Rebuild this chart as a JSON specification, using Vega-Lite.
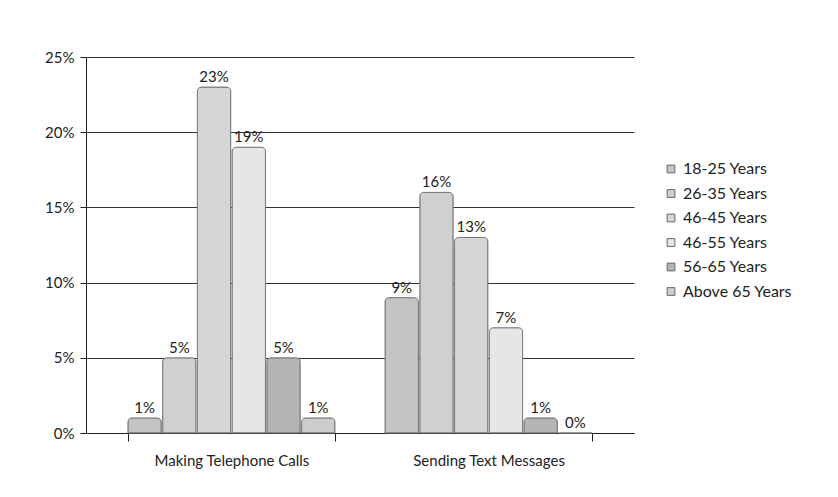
{
  "$schema": "https://vega.github.io/schema/vega-lite/v6.json",
  "width": 548,
  "height": 376,
  "autosize": {"type": "none"},
  "padding": {"left": 86, "top": 57, "right": 204, "bottom": 64},
  "background": "white",
  "data": {
    "values": [
      {"activity": "Making Telephone Calls", "age": "18-25 Years", "pct": 0.01},
      {"activity": "Making Telephone Calls", "age": "26-35 Years", "pct": 0.05},
      {"activity": "Making Telephone Calls", "age": "46-45 Years", "pct": 0.23},
      {"activity": "Making Telephone Calls", "age": "46-55 Years", "pct": 0.19},
      {"activity": "Making Telephone Calls", "age": "56-65 Years", "pct": 0.05},
      {"activity": "Making Telephone Calls", "age": "Above 65 Years", "pct": 0.01},
      {"activity": "Sending Text Messages", "age": "18-25 Years", "pct": 0.09},
      {"activity": "Sending Text Messages", "age": "26-35 Years", "pct": 0.16},
      {"activity": "Sending Text Messages", "age": "46-45 Years", "pct": 0.13},
      {"activity": "Sending Text Messages", "age": "46-55 Years", "pct": 0.07},
      {"activity": "Sending Text Messages", "age": "56-65 Years", "pct": 0.01},
      {"activity": "Sending Text Messages", "age": "Above 65 Years", "pct": 0.0}
    ]
  },
  "encoding": {
    "x": {
      "field": "activity", "type": "nominal", "title": null,
      "scale": {"paddingInner": 0.195, "paddingOuter": 0.163},
      "axis": {"labelAngle": 0, "labelFont": "Lato", "labelFontSize": 15, "labelColor": "#222", "labelPadding": 12, "domainColor": "#222", "tickColor": "#222", "tickBand": "extent", "tickSize": 8, "ticks": true}
    },
    "xOffset": {"field": "age", "type": "nominal", "scale": {"paddingInner": 0.04}},
    "y": {
      "field": "pct", "type": "quantitative", "title": null,
      "scale": {"domain": [0, 0.25]},
      "axis": {"values": [0, 0.05, 0.1, 0.15, 0.2, 0.25], "format": ".0%", "labelFont": "Lato", "labelFontSize": 15, "labelColor": "#222", "domainColor": "#222", "tickColor": "#222", "tickSize": 6, "gridColor": "#333", "gridWidth": 1, "labelPadding": 6}
    }
  },
  "layer": [
    {
      "mark": {"type": "bar", "stroke": "#777", "strokeWidth": 1, "cornerRadiusEnd": 4},
      "encoding": {
        "color": {
          "field": "age", "type": "nominal", "title": null,
          "scale": {"domain": ["18-25 Years", "26-35 Years", "46-45 Years", "46-55 Years", "56-65 Years", "Above 65 Years"],
                    "range": ["#c4c4c4", "#d0d0d0", "#d6d6d6", "#e6e6e6", "#b4b4b4", "#cdcdcd"]},
          "legend": {"orient": "none", "legendX": 577, "legendY": 104, "labelFont": "Lato", "labelFontSize": 16, "labelColor": "#222", "symbolType": "square", "symbolSize": 60, "symbolStrokeColor": "#666", "symbolStrokeWidth": 1, "rowPadding": 8.5, "labelOffset": 4}
        }
      }
    },
    {
      "mark": {"type": "text", "dy": -10, "font": "Lato", "fontSize": 15, "color": "#222"},
      "encoding": {"text": {"field": "pct", "type": "quantitative", "format": ".0%"}}
    }
  ],
  "config": {"view": {"stroke": null}}
}
